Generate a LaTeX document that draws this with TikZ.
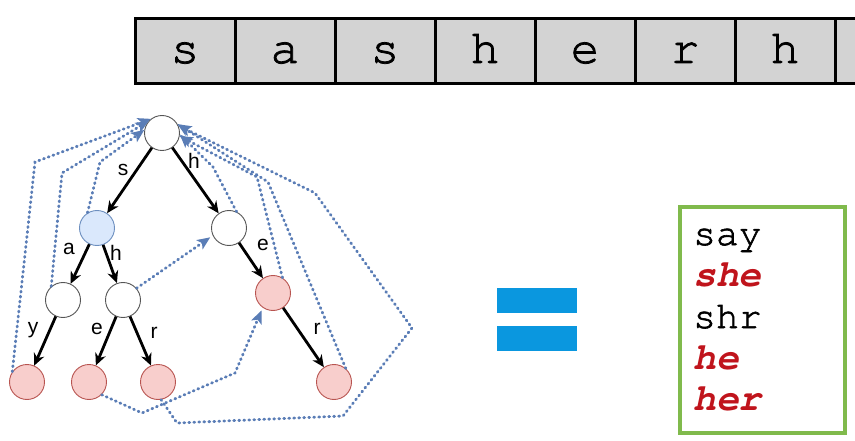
\documentclass[tikz,border=0pt]{standalone}
\usepackage{fontspec}
\setmainfont{Liberation Sans}
\setmonofont{TeX Gyre Cursor}
\newfontfamily\courheavy{TeX Gyre Cursor}[FakeBold=1.6]
\usetikzlibrary{arrows.meta}
\definecolor{celgray}{HTML}{D3D3D3}
\definecolor{nodegray}{HTML}{555555}
\definecolor{bfill}{HTML}{DAE8FC}
\definecolor{bborder}{HTML}{6C8EBF}
\definecolor{rfill}{HTML}{F8CECC}
\definecolor{rborder}{HTML}{B85450}
\definecolor{linkblue}{HTML}{5A7DB6}
\definecolor{eqblue}{HTML}{0A97DF}
\definecolor{lgreen}{HTML}{80BA4C}
\definecolor{wred}{HTML}{C0141C}
\begin{document}
\begin{tikzpicture}[x=1pt,y=-1pt,
  cell/.style={draw=black, line width=3pt, fill=celgray, minimum width=100pt, minimum height=65pt, inner sep=0pt, text height=24pt, text depth=0pt, font=\fontsize{48}{48}\selectfont\courheavy},
  tnode/.style={circle, minimum size=35pt, inner sep=0pt, line width=0.9pt},
  wnode/.style={tnode, draw=nodegray, fill=white},
  bnode/.style={tnode, draw=bborder, fill=bfill},
  rnode/.style={tnode, draw=rborder, fill=rfill},
  edge/.style={line width=2.8pt, -{Stealth[length=12pt,width=11pt]}},
  link/.style={draw=linkblue, line width=2.8pt, dash pattern=on 1pt off 4pt, line cap=round, -{Stealth[length=13pt,width=11pt,inset=3pt,fill=linkblue]}},
  lbl/.style={inner sep=0pt, font=\fontsize{21}{21}\selectfont},
  word/.style={anchor=base west, inner sep=0pt, font=\fontsize{38}{38}\selectfont\courheavy},
  hit/.style={anchor=base west, inner sep=0pt, text=wred, font=\fontsize{38}{38}\selectfont\ttfamily\bfseries\itshape},
  eqbar/.style={fill=eqblue, minimum width=80pt, minimum height=25pt, inner sep=0pt}
]
\useasboundingbox (0,0) rectangle (855,441);

% top strip
\node[cell] (c1) at (185,51) {s};
\node[cell] (c2) at (285,51) {a};
\node[cell] (c3) at (385,51) {s};
\node[cell] (c4) at (485,51) {h};
\node[cell] (c5) at (585,51) {e};
\node[cell] (c6) at (685,51) {r};
\node[cell] (c7) at (785,51) {h};
\node[cell] (c8) at (885,51) {};

% tree nodes
\node[wnode] (root) at (162,133) {};
\node[bnode] (s) at (97,228) {};
\node[wnode] (h) at (229,228) {};
\node[wnode] (sa) at (63,300) {};
\node[wnode] (sh) at (123,300) {};
\node[rnode] (he) at (273,293) {};
\node[rnode] (say) at (27,382) {};
\node[rnode] (she) at (89,382) {};
\node[rnode] (shr) at (158,382) {};
\node[rnode] (her) at (334,382) {};

% tree edges
\draw[edge] (root) -- (s);
\draw[edge] (root) -- (h);
\draw[edge] (s) -- (sa);
\draw[edge] (s) -- (sh);
\draw[edge] (h) -- (he);
\draw[edge] (sa) -- (say);
\draw[edge] (sh) -- (she);
\draw[edge] (sh) -- (shr);
\draw[edge] (he) -- (her);

% edge labels
\node[lbl] (l1) at (123,170) {s};
\node[lbl] (l2) at (194,161) {h};
\node[lbl] (l3) at (69,249) {a};
\node[lbl] (l4) at (116,253) {h};
\node[lbl] (l5) at (263,245) {e};
\node[lbl] (l6) at (33,330) {y};
\node[lbl] (l7) at (97,329) {e};
\node[lbl] (l8) at (154,333) {r};
\node[lbl] (l9) at (317,329) {r};

% failure links
\draw[link] (say.145) -- (35,162) -- (root.128);
\draw[link] (sa.131) -- (62,173) -- (root.138);
\draw[link] (s.122) -- (100,162) -- (root.170);
\draw[link] (h.65) -- (213,167) -- (root.-5);
\draw[link] (he.58) -- (257,177) -- (root.-10);
\draw[link] (her.49) -- (268,182) -- (root.30);
\draw[link] (shr.-80) -- (177,423) -- (343,416) -- (412,328) -- (315,193) -- (root.25);
\draw[link, shorten >=3pt] (she.-45) -- (142,413) -- (235,373) -- (he.235);
\draw[link, shorten >=3pt] (sh.41) -- (h.205);

% equals sign
\node[eqbar] (eq1) at (537,300.5) {};
\node[eqbar] (eq2) at (537,338) {};

% output box
\node[draw=lgreen, line width=3.5pt, minimum width=165pt, minimum height=226pt, inner sep=0pt] (box) at (762.5,320) {};
\node[word] (w1) at (693,245) {say};
\node[hit] (w2) at (693,286) {she};
\node[word] (w3) at (693,328) {shr};
\node[hit] (w4) at (693,369) {he};
\node[hit] (w5) at (693,410) {her};
\end{tikzpicture}
\end{document}
